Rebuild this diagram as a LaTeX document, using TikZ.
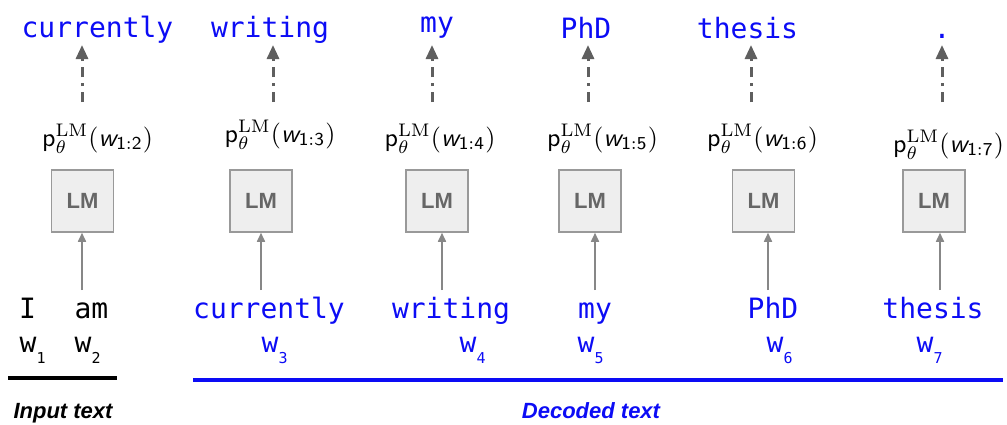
\documentclass[tikz,border=0pt]{standalone}
\usepackage{graphicx}
\usepackage{fontspec}
\usetikzlibrary{arrows.meta}

\newfontfamily\wordfont{DejaVu Sans Mono}
\newfontfamily\capfont{Liberation Sans}

\definecolor{decblue}{RGB}{12,12,245}
\definecolor{boxgray}{RGB}{238,238,238}
\definecolor{linegray}{RGB}{153,153,153}
\definecolor{lmgray}{RGB}{102,102,102}
\definecolor{arrgray}{RGB}{135,135,135}
\definecolor{dotgray}{RGB}{95,95,95}

\newcommand{\plm}[1]{\scalebox{2.6}{$\mathsf{p}^{\mathrm{LM}}_{\theta}(\mbox{\sffamily\itshape w}_{\mathsf{1:#1}})$}}
\newcommand{\wsub}[1]{w\raisebox{-11.5pt}{\fontsize{15}{15}\selectfont #1}}

\begin{document}
\begin{tikzpicture}[x=1pt,y=-1pt,
    lmbox/.style={draw=linegray,fill=boxgray,line width=1.5pt,minimum width=62pt,minimum height=62pt,
        inner sep=0pt,text=lmgray,font=\capfont\bfseries\fontsize{22}{22}\selectfont},
    word/.style={anchor=base,inner sep=0pt,font=\wordfont\fontsize{28}{28}\selectfont},
    prob/.style={anchor=base,inner sep=0pt},
    wlabel/.style={anchor=base west,inner sep=0pt,font=\wordfont\fontsize{28}{28}\selectfont},
    uparr/.style={draw=arrgray,line width=1.6pt,-{Triangle[length=9pt,width=8pt]}},
    toparr/.style={draw=dotgray,line width=3pt,dash pattern=on 10pt off 6pt on 3pt off 6pt,
        -{Triangle[length=14pt,width=12pt]}},
    caption/.style={anchor=base,inner sep=0pt,font=\capfont\bfseries\itshape\fontsize{22}{22}\selectfont}]
    \useasboundingbox (0,0) rectangle (1007,424);

    % language model boxes
    \node[lmbox] (lm1) at (82.5,201) {LM};
    \node[lmbox] (lm2) at (261,201) {LM};
    \node[lmbox] (lm3) at (437,201) {LM};
    \node[lmbox] (lm4) at (590,201) {LM};
    \node[lmbox] (lm5) at (763.5,201) {LM};
    \node[lmbox] (lm6) at (934,201) {LM};

    % next word distributions
    \node[prob] (p1) at (97.5,146) {\plm{2}};
    \node[prob] (p2) at (280,142) {\plm{3}};
    \node[prob] (p3) at (440,146) {\plm{4}};
    \node[prob] (p4) at (602.5,146) {\plm{5}};
    \node[prob] (p5) at (762.5,146) {\plm{6}};
    \node[prob] (p6) at (948.5,152) {\plm{7}};

    % picked words
    \node[word,text=decblue] (out1) at (97.5,37) {currently};
    \node[word,text=decblue] (out2) at (270,37) {writing};
    \node[word,text=decblue] (out3) at (437,32) {my};
    \node[word,text=decblue] (out4) at (586,38) {PhD};
    \node[word,text=decblue] (out5) at (747.5,38) {thesis};
    \node[word,text=decblue] (out6) at (942,38) {.};

    % input and decoded words
    \node[word] (in1) at (27.5,318) {I};
    \node[word] (in2) at (91.5,318) {am};
    \node[word,text=decblue] (dec3) at (269,318) {currently};
    \node[word,text=decblue] (dec4) at (451,318) {writing};
    \node[word,text=decblue] (dec5) at (595,318) {my};
    \node[word,text=decblue] (dec6) at (773,318) {PhD};
    \node[word,text=decblue] (dec7) at (933,318) {thesis};

    \node[wlabel] (w1) at (19.5,352) {\wsub{1}};
    \node[wlabel] (w2) at (74.5,352) {\wsub{2}};
    \node[wlabel,text=decblue] (w3) at (261.5,352) {\wsub{3}};
    \node[wlabel,text=decblue] (w4) at (459.5,352) {\wsub{4}};
    \node[wlabel,text=decblue] (w5) at (577.5,352) {\wsub{5}};
    \node[wlabel,text=decblue] (w6) at (766.5,352) {\wsub{6}};
    \node[wlabel,text=decblue] (w7) at (916.5,352) {\wsub{7}};

    % arrow ends
    \coordinate (b1) at (82,290);
    \coordinate (b2) at (261,290);
    \coordinate (b3) at (442,290);
    \coordinate (b4) at (595,290);
    \coordinate (b5) at (768,290);
    \coordinate (b6) at (940,290);
    \coordinate (t1) at (82,102);
    \coordinate (t2) at (273,102);
    \coordinate (t3) at (432,102);
    \coordinate (t4) at (588,102);
    \coordinate (t5) at (751,102);
    \coordinate (t6) at (942,102);

    \draw[uparr] (b1) -- (b1 |- lm1.south);
    \draw[uparr] (b2) -- (b2 |- lm2.south);
    \draw[uparr] (b3) -- (b3 |- lm3.south);
    \draw[uparr] (b4) -- (b4 |- lm4.south);
    \draw[uparr] (b5) -- (b5 |- lm5.south);
    \draw[uparr] (b6) -- (b6 |- lm6.south);

    \draw[toparr] (t1) -- ([yshift=-8pt]t1 |- out1.base);
    \draw[toparr] (t2) -- ([yshift=-8pt]t2 |- out2.base);
    \draw[toparr] (t3) -- ([yshift=-13pt]t3 |- out3.base);
    \draw[toparr] (t4) -- ([yshift=-7pt]t4 |- out4.base);
    \draw[toparr] (t5) -- ([yshift=-7pt]t5 |- out5.base);
    \draw[toparr] (t6) -- ([yshift=-7pt]t6 |- out6.base);

    % underlines and captions
    \draw[line width=3.4pt] (8,378) -- (117,378);
    \draw[decblue,line width=3.4pt] (193,380) -- (1003,380);
    \node[caption] (intext) at (63,418) {Input text};
    \node[caption,text=decblue] (dectext) at (591,418) {Decoded text};
\end{tikzpicture}
\end{document}
